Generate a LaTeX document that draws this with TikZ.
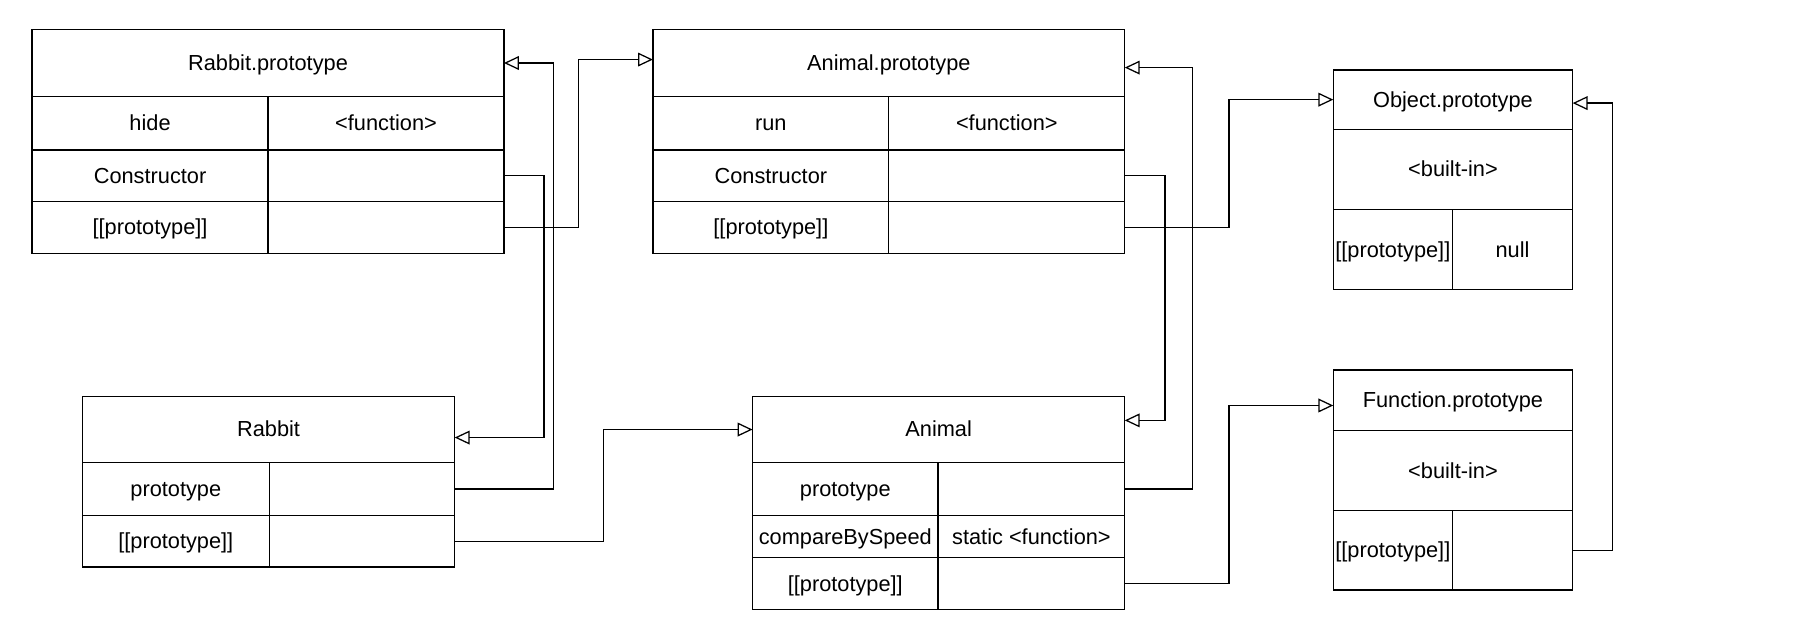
\documentclass[tikz,border=0pt]{standalone}
\usepackage{fontspec}
\setmainfont{Liberation Sans}
\usetikzlibrary{arrows.meta,positioning}

\begin{document}
\begin{tikzpicture}[x=1pt,y=-1pt,
  cell/.style={draw,line width=1.1pt,inner sep=0pt,outer sep=0pt,text height=16pt,text depth=3pt,font=\fontsize{19}{22}\selectfont},
  link/.style={-{Triangle[open,length=13pt,width=12pt]},line width=1.1pt}]
\useasboundingbox[fill=white] (0,0) rectangle (1568,552);
% Rabbit.prototype
\node[cell,minimum width=412pt,minimum height=58pt] (rptitle) at (234,55) {Rabbit.prototype};
\node[cell,minimum width=206pt,minimum height=47pt,below right=0pt of rptitle.south west] (rphide) {hide};
\node[cell,minimum width=206pt,minimum height=47pt,right=0pt of rphide] (rphidev) {\textless function\textgreater};
\node[cell,minimum width=206pt,minimum height=45pt,below right=0pt of rphide.south west] (rpcons) {Constructor};
\node[cell,minimum width=206pt,minimum height=45pt,right=0pt of rpcons] (rpconsv) {};
\node[cell,minimum width=206pt,minimum height=45pt,below right=0pt of rpcons.south west] (rppp) {[[prototype]]};
\node[cell,minimum width=206pt,minimum height=45pt,right=0pt of rppp] (rpppv) {};
% Animal.prototype
\node[cell,minimum width=412pt,minimum height=58pt] (aptitle) at (776,55) {Animal.prototype};
\node[cell,minimum width=206pt,minimum height=47pt,below right=0pt of aptitle.south west] (aprun) {run};
\node[cell,minimum width=206pt,minimum height=47pt,right=0pt of aprun] (aprunv) {\textless function\textgreater};
\node[cell,minimum width=206pt,minimum height=45pt,below right=0pt of aprun.south west] (apcons) {Constructor};
\node[cell,minimum width=206pt,minimum height=45pt,right=0pt of apcons] (apconsv) {};
\node[cell,minimum width=206pt,minimum height=45pt,below right=0pt of apcons.south west] (appp) {[[prototype]]};
\node[cell,minimum width=206pt,minimum height=45pt,right=0pt of appp] (apppv) {};
% Object.prototype
\node[cell,minimum width=209pt,minimum height=52pt] (optitle) at (1268.5,87) {Object.prototype};
\node[cell,minimum width=209pt,minimum height=70pt,below=0pt of optitle] (opbuilt) {\textless built-in\textgreater};
\node[cell,minimum width=104pt,minimum height=70pt,below right=0pt of opbuilt.south west] (oppp) {[[prototype]]};
\node[cell,minimum width=105pt,minimum height=70pt,right=0pt of oppp] (opppv) {null};
% Rabbit
\node[cell,minimum width=325pt,minimum height=58pt] (rbtitle) at (234.5,375) {Rabbit};
\node[cell,minimum width=163pt,minimum height=46pt,below right=0pt of rbtitle.south west] (rbproto) {prototype};
\node[cell,minimum width=162pt,minimum height=46pt,right=0pt of rbproto] (rbprotov) {};
\node[cell,minimum width=163pt,minimum height=45pt,below right=0pt of rbproto.south west] (rbpp) {[[prototype]]};
\node[cell,minimum width=162pt,minimum height=45pt,right=0pt of rbpp] (rbppv) {};
% Animal
\node[cell,minimum width=325pt,minimum height=58pt] (antitle) at (819.5,375) {Animal};
\node[cell,minimum width=162pt,minimum height=46pt,below right=0pt of antitle.south west] (anproto) {prototype};
\node[cell,minimum width=163pt,minimum height=46pt,right=0pt of anproto] (anprotov) {};
\node[cell,minimum width=162pt,minimum height=37pt,below right=0pt of anproto.south west] (ancmp) {compareBySpeed};
\node[cell,minimum width=163pt,minimum height=37pt,right=0pt of ancmp] (ancmpv) {static \textless function\textgreater};
\node[cell,minimum width=162pt,minimum height=45pt,below right=0pt of ancmp.south west] (anpp) {[[prototype]]};
\node[cell,minimum width=163pt,minimum height=45pt,right=0pt of anpp] (anppv) {};
% Function.prototype
\node[cell,minimum width=209pt,minimum height=53pt] (fptitle) at (1268.5,349.5) {Function.prototype};
\node[cell,minimum width=209pt,minimum height=70pt,below=0pt of fptitle] (fpbuilt) {\textless built-in\textgreater};
\node[cell,minimum width=104pt,minimum height=69pt,below right=0pt of fpbuilt.south west] (fppp) {[[prototype]]};
\node[cell,minimum width=105pt,minimum height=69pt,right=0pt of fppp] (fpppv) {};
% links
\draw[link] (rpconsv.east) -- ++(35,0) |- ([yshift=-7pt]rbtitle.east);
\draw[link] (rpppv.east) -- ++(65,0) |- ([yshift=3pt]aptitle.west);
\draw[link] (rbprotov.east) -- ++(86,0) |- (rptitle.east);
\draw[link] (rbppv.east) -- ++(130,0) |- (antitle.west);
\draw[link] (apconsv.east) -- ++(35,0) |- ([yshift=8pt]antitle.east);
\draw[link] (anprotov.east) -- ++(59,0) |- ([yshift=-4pt]aptitle.east);
\draw[link] (apppv.east) -- ++(91,0) |- (optitle.west);
\draw[link] (anppv.east) -- ++(91,0) |- ([yshift=-4.5pt]fptitle.west);
\draw[link] (fpppv.east) -- ++(35,0) |- ([yshift=-3pt]optitle.east);
\end{tikzpicture}
\end{document}
